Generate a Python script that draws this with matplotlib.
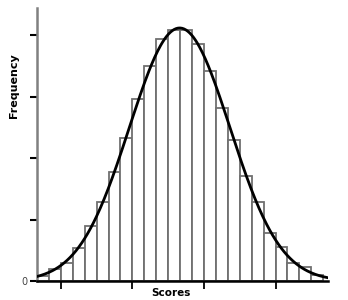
import numpy as np
import matplotlib.pyplot as plt

# histogram of scores (24 equal-width bins), counts
bin_edges = list(range(25))
counts = [4, 10, 15, 27, 45, 64, 89, 116, 148, 175, 197, 204,
          204, 193, 171, 141, 115, 85, 64, 39, 28, 15, 11, 5]
x_ticks = [2, 8, 14, 20]
y_ticks = [0, 50, 100, 150, 200]

edges = np.array(bin_edges, dtype=float)
freq = np.array(counts, dtype=float)
centers = (edges[:-1] + edges[1:]) / 2
width = edges[1] - edges[0]

# gaussian curve fitted to the bar heights (quadratic fit of log counts)
a, b, c = np.polyfit(centers, np.log(freq), 2, w=np.sqrt(freq))
xs = np.linspace(0, 24.4, 300)
ys = np.exp(a * xs ** 2 + b * xs + c)

fig = plt.figure(figsize=(3.48, 3.0), dpi=100)
ax = fig.add_axes([0.1063, 0.0633, 0.8362, 0.91])

ax.bar(edges[:-1], freq, width=width, align='edge', color='white',
       edgecolor='#707070', linewidth=1.3, zorder=2)
ax.plot(xs, ys, color='black', linewidth=2, zorder=3)

ax.set_xlim(0, 24.4)
ax.set_ylim(0, 222)
ax.set_xticks(x_ticks)
ax.set_xticklabels([])
ax.set_yticks(y_ticks)
ax.set_yticklabels(['0', '', '', '', ''], fontsize=7, color='#444444')

ax.spines['top'].set_visible(False)
ax.spines['right'].set_visible(False)
ax.spines['left'].set_color('#808080')
ax.spines['left'].set_linewidth(1.8)
ax.spines['bottom'].set_color('black')
ax.spines['bottom'].set_linewidth(1.8)
ax.tick_params(axis='y', length=5, width=1.5, color='black', pad=2)
ax.tick_params(axis='x', length=6, width=1.3, color='black')

fig.text(0.492, 0.005, 'Scores', fontsize=7.5, fontweight='bold', ha='center', va='bottom')
fig.text(0.04, 0.713, 'Frequency', fontsize=8, fontweight='bold', rotation=90,
         ha='center', va='center')

fig.savefig('out.png', dpi=100)
